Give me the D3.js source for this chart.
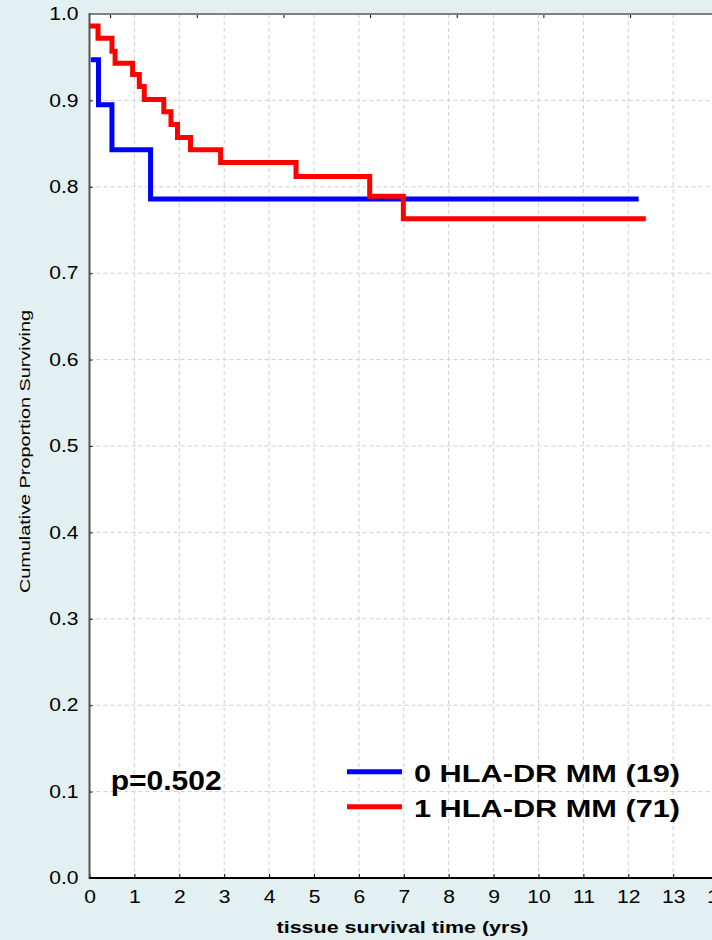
<!DOCTYPE html>
<html>
<head>
<meta charset="utf-8">
<script src="https://cdn.jsdelivr.net/npm/d3@7"></script>
<style>
    html, body { margin: 0; padding: 0; background: #e2f0f1; }
    svg { display: block; font-family: 'Liberation Sans', Arial, sans-serif; }
    .grid line { stroke: #cfcfcf; stroke-width: 1; stroke-dasharray: 4,3; }
    .axis path { display: none; }
    .axis line { stroke: #000; }
    .axis text { font-size: 18px; fill: #000; }
</style>
</head>
<body>
<svg id="chart"></svg>
<script>
// survival curves (time in years, proportion surviving)
const blueTimes = [0.03, 0.2, 0.5, 1.36, 12.23]
const blueSurv = [0.947, 0.895, 0.843, 0.786, 0.786]

const redTimes = [0, 0.19, 0.5, 0.57, 0.96, 1.11, 1.22, 1.655, 1.815, 1.96, 2.25, 2.92, 4.6, 6.24, 6.99, 12.39]
const redSurv = [0.986, 0.972, 0.957, 0.943, 0.930, 0.916, 0.901, 0.887, 0.872, 0.857, 0.843, 0.828, 0.812, 0.789, 0.763, 0.763]

const xTicks = [0, 1, 2, 3, 4, 5, 6, 7, 8, 9, 10, 11, 12, 13, 14]
const yTicks = [0, 0.1, 0.2, 0.3, 0.4, 0.5, 0.6, 0.7, 0.8, 0.9, 1.0]
// small marks along the top border
const topTicks = [0.47, 2.4, 4.33, 6.26, 8.19, 10.12, 12.05, 13.98]

const seriesNames = ['0 HLA-DR MM (19)', '1 HLA-DR MM (71)']
const seriesColors = ['#0000ff', '#ff0000']
const pValueText = 'p=0.502'

const WIDTH = 712
const HEIGHT = 940
const PLOT_LEFT = 89.5
const PLOT_TOP = 14
const PLOT_BOTTOM = 878
const YEAR_WIDTH = 44.9
const LABEL_STRETCH = 1.17

const svg = d3.select('#chart')
    .attr('width', WIDTH)
    .attr('height', HEIGHT)
    .attr('viewBox', `0 0 ${WIDTH} ${HEIGHT}`)

const x = d3.scaleLinear().domain([0, 15]).range([PLOT_LEFT, PLOT_LEFT + 15 * YEAR_WIDTH])
const y = d3.scaleLinear().domain([0, 1]).range([PLOT_BOTTOM, PLOT_TOP])

// plot area
svg.append('rect')
    .attr('x', PLOT_LEFT).attr('y', PLOT_TOP)
    .attr('width', WIDTH - PLOT_LEFT).attr('height', PLOT_BOTTOM - PLOT_TOP)
    .attr('fill', '#fff')

// grid
const grid = svg.append('g').classed('grid', true)
grid.selectAll('.gx').data(xTicks.slice(1)).join('line')
    .attr('x1', d => x(d)).attr('x2', d => x(d))
    .attr('y1', PLOT_TOP).attr('y2', PLOT_BOTTOM)
grid.selectAll('.gy').data(yTicks.slice(1, -1)).join('line')
    .attr('x1', PLOT_LEFT).attr('x2', WIDTH)
    .attr('y1', d => y(d)).attr('y2', d => y(d))

// axes
svg.append('g').classed('axis', true)
    .attr('transform', `translate(0,${PLOT_BOTTOM})`)
    .call(d3.axisBottom(x).tickValues(xTicks).tickSizeInner(-4).tickSizeOuter(0).tickPadding(12.5))

svg.append('g').classed('axis', true)
    .attr('transform', `translate(${PLOT_LEFT},0)`)
    .call(d3.axisLeft(y).tickValues(yTicks).tickFormat(d3.format('.1f')).tickSizeInner(-3).tickSizeOuter(0).tickPadding(11))

// the tick labels in the picture are a bit wider than plain Arial
svg.selectAll('.axis text').each(function () {
    const len = this.getComputedTextLength()
    d3.select(this)
        .attr('textLength', len * LABEL_STRETCH)
        .attr('lengthAdjust', 'spacingAndGlyphs')
})

svg.append('g')
    .selectAll('line').data(topTicks).join('line')
    .attr('x1', d => x(d)).attr('x2', d => x(d))
    .attr('y1', PLOT_TOP).attr('y2', PLOT_TOP + 4)
    .attr('stroke', '#000')

// frame
svg.append('line')
    .attr('x1', PLOT_LEFT).attr('x2', WIDTH).attr('y1', PLOT_TOP).attr('y2', PLOT_TOP)
    .attr('stroke', '#808080').attr('stroke-width', 2)
svg.append('line')
    .attr('x1', PLOT_LEFT).attr('x2', PLOT_LEFT).attr('y1', PLOT_TOP - 1).attr('y2', PLOT_BOTTOM + 1)
    .attr('stroke', '#555').attr('stroke-width', 2)
svg.append('line')
    .attr('x1', PLOT_LEFT).attr('x2', WIDTH).attr('y1', PLOT_BOTTOM).attr('y2', PLOT_BOTTOM)
    .attr('stroke', '#000').attr('stroke-width', 2)

// curves
const step = d3.line()
    .x(d => x(d[0]))
    .y(d => y(d[1]))
    .curve(d3.curveStepAfter)

const curves = [
    d3.zip(blueTimes, blueSurv),
    d3.zip(redTimes, redSurv),
]

svg.append('g')
    .selectAll('path').data(curves).join('path')
    .attr('d', step)
    .attr('fill', 'none')
    .attr('stroke', (d, i) => seriesColors[i])
    .attr('stroke-width', 5)

// axis titles
svg.append('text')
    .attr('x', 402.5).attr('y', 933)
    .attr('text-anchor', 'middle')
    .attr('font-size', 17).attr('font-weight', 'bold')
    .attr('textLength', 252).attr('lengthAdjust', 'spacingAndGlyphs')
    .text('tissue survival time (yrs)')

svg.append('text')
    .attr('transform', 'translate(30,451.5) rotate(-90)')
    .attr('text-anchor', 'middle')
    .attr('font-size', 15)
    .attr('textLength', 283).attr('lengthAdjust', 'spacingAndGlyphs')
    .text('Cumulative Proportion Surviving')

// p value
svg.append('text')
    .attr('x', 110.7).attr('y', 789.5)
    .attr('font-size', 27).attr('font-weight', 'bold')
    .attr('textLength', 111).attr('lengthAdjust', 'spacingAndGlyphs')
    .text(pValueText)

// legend
const legend = svg.append('g')
    .selectAll('g').data(seriesNames).join('g')
    .attr('transform', (d, i) => `translate(347,${771.7 + i * 35})`)

legend.append('line')
    .attr('x1', 0).attr('x2', 55)
    .attr('stroke', (d, i) => seriesColors[i])
    .attr('stroke-width', 5)

legend.append('text')
    .attr('x', 67).attr('y', 10.5)
    .attr('font-size', 24).attr('font-weight', 'bold')
    .attr('textLength', 266).attr('lengthAdjust', 'spacingAndGlyphs')
    .text(d => d)
</script>
</body>
</html>
